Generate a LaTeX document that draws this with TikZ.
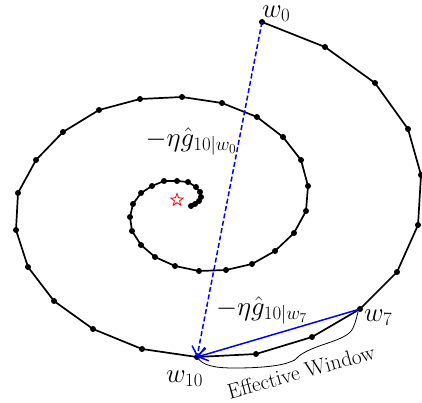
\RequirePackage{fix-cm}
\documentclass[tikz,border=0pt]{standalone}
\usetikzlibrary{arrows.meta,shapes.geometric}
\begin{document}
\begin{tikzpicture}[x=1pt,y=-1pt,
  spiral/.style={line width=1.7pt,black,line join=round},
  dot/.style={circle,fill=black,inner sep=0pt,minimum size=6pt},
  mlabel/.style={font=\fontsize{27}{30}\selectfont,inner sep=0pt},
  tlabel/.style={font=\fontsize{21.5}{25}\selectfont,inner sep=0pt},
  bracepath/.style={line width=0.8pt,black},
  grad/.style={blue,line width=1.5pt,-{Straight Barb[length=9pt,width=14pt,line width=1.5pt]}}]
\useasboundingbox (0,0) rectangle (422,402);
\foreach \x/\y [count=\i from 0] in {262/22,325/47,375/83,408/129,421/175,418/225,397/272,360/309,312/337,256/354,197/357,142/349,93/329,54/301,28/267,16/230,18/193,36/160,63/132,99/110,140/99,182/97,222/103,257/117,283/137,301/160,308/186,306/211,294/233,275/251,252/264,226/270,199/271,175/266,155/257,141/245,132/231,130/217,133/204,141/193,152/186,164/181,177/181,188/182,196/187,200/192,201/197,199/201,195/204,191/206}
  \coordinate (p\i) at (\x,\y);
\draw[spiral] (p0) \foreach \i in {1,...,49} { -- (p\i) };
\foreach \i in {0,...,49} \node[dot] (d\i) at (p\i) {};
\node[star,star points=5,star point ratio=2.4,draw=red,line width=0.8pt,minimum size=13pt,inner sep=0pt] (opt) at (177,200) {};
\draw[grad,dashed,dash pattern=on 5pt off 2.5pt] (p0) -- (p10);
\draw[grad] (p7) -- (p10);
\coordinate (btip) at (297,358);
\coordinate (bend) at (358,312);
\draw[bracepath] (p10) .. controls (203,366) and (215,368) .. (235,368)
  .. controls (260,368) and (280,366) .. (290,362)
  .. controls (294,360.5) and (296,359.5) .. (btip);
\draw[bracepath] (btip) .. controls (300,354) and (310,349) .. (325,344)
  .. controls (340,339) and (350,335) .. (353,328)
  .. controls (356,321) and (357,316) .. (bend);
\node[mlabel,anchor=base west] (lw0) at (262,17) {$w_0$};
\node[mlabel,anchor=base west] (lw7) at (364,321) {$w_7$};
\node[mlabel,anchor=base west] (lw10) at (166,382) {$w_{10}$};
\node[mlabel,anchor=base east] (lg0) at (237,146) {$-\eta\hat{g}_{10|w_0}$};
\node[mlabel,anchor=base west] (lg7) at (216,315) {$-\eta\hat{g}_{10|w_7}$};
\node[tlabel,rotate=15.5,anchor=base] (ew) at (303,379) {Effective Window};
\end{tikzpicture}
\end{document}
